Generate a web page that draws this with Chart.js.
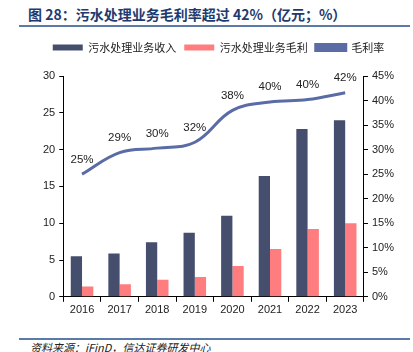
<!DOCTYPE html>
<html>
<head>
<meta charset="utf-8">
<script src="https://cdn.jsdelivr.net/npm/chart.js@4.4.0/dist/chart.umd.min.js"></script>
<style>
  html, body { margin: 0; padding: 0; background: #fff; }
  #wrap { position: relative; width: 413px; height: 352px; overflow: hidden; }
  #title { position: absolute; left: 28px; top: 4px; font: bold 14px "Noto Sans CJK SC", sans-serif; color: #1f3a6e; white-space: nowrap; }
  #topLine { position: absolute; left: 19px; top: 25px; width: 391px; height: 2px; background: #5b7aa8; }
  #botLine { position: absolute; left: 19px; top: 338px; width: 391px; height: 2px; background: #5b7aa8; }
  #source { position: absolute; left: 30px; top: 339px; font: italic 11px "Noto Sans CJK SC", sans-serif; color: #222; white-space: nowrap; }
  #chartBox { position: absolute; left: 0; top: 30px; width: 413px; height: 289px; }
</style>
</head>
<body>
<div id="wrap">
  <div id="title">图 28：污水处理业务毛利率超过 42%（亿元；%）</div>
  <div id="topLine"></div>
  <div id="chartBox"><canvas id="wasteChart"></canvas></div>
  <div id="botLine"></div>
  <div id="source">资料来源：iFinD，信达证券研发中心</div>
</div>
<script>
const years = ['2016', '2017', '2018', '2019', '2020', '2021', '2022', '2023'];
const revenue = [5.5, 5.9, 7.4, 8.7, 11.0, 16.4, 22.8, 24.0];
const grossProfit = [1.4, 1.7, 2.3, 2.7, 4.2, 6.5, 9.2, 10.0];
const grossMargin = [25.0, 29.4, 30.3, 31.5, 38.0, 39.7, 40.2, 41.6];
const marginLabels = ['25%', '29%', '30%', '32%', '38%', '40%', '40%', '42%'];

// labels above the margin line
const lineLabels = {
    id: 'lineLabels',
    afterDatasetsDraw(chart) {
        const ctx = chart.ctx;
        const meta = chart.getDatasetMeta(2);
        ctx.save();
        ctx.font = '11.5px "Liberation Sans", Arial, sans-serif';
        ctx.fillStyle = '#222';
        ctx.textAlign = 'center';
        ctx.textBaseline = 'bottom';
        meta.data.forEach(function(pt, i) {
            ctx.fillText(marginLabels[i], pt.x, pt.y - 9);
        });
        ctx.restore();
    }
};

// extra space between legend and plot
const legendGap = {
    id: 'legendGap',
    beforeInit(chart) {
        const fit = chart.legend.fit;
        chart.legend.fit = function() {
            fit.bind(chart.legend)();
            this.height += 13;
        };
    }
};

const wasteChart = new Chart(document.getElementById('wasteChart'), {
    type: 'bar',
    data: {
        labels: years,
        datasets: [{
            label: '污水处理业务收入',
            data: revenue,
            backgroundColor: '#464e6d',
            yAxisID: 'y',
            order: 2,
            categoryPercentage: 0.6,
            barPercentage: 1.0
        }, {
            label: '污水处理业务毛利',
            data: grossProfit,
            backgroundColor: '#ff7d7f',
            yAxisID: 'y',
            order: 2,
            categoryPercentage: 0.6,
            barPercentage: 1.0
        }, {
            type: 'line',
            label: '毛利率',
            data: grossMargin,
            borderColor: '#5a6ca6',
            backgroundColor: '#5a6ca6',
            borderWidth: 3,
            pointRadius: 0,
            tension: 0.4,
            yAxisID: 'y1',
            order: 1
        }]
    },
    options: {
        responsive: true,
        maintainAspectRatio: false,
        animation: false,
        layout: { padding: { left: 39, right: 15, top: 4, bottom: 0 } },
        plugins: {
            legend: {
                position: 'top',
                labels: {
                    boxWidth: 30,
                    boxHeight: 6,
                    padding: 8,
                    color: '#222',
                    font: { size: 11, family: '"Noto Sans CJK SC", sans-serif' },
                    sort: function(a, b) { return a.datasetIndex - b.datasetIndex; }
                }
            },
            tooltip: { enabled: false }
        },
        scales: {
            x: {
                grid: { display: true, offset: true, drawOnChartArea: false, drawTicks: true, tickLength: 5, color: '#000' },
                border: { color: '#000', width: 1 },
                ticks: { color: '#222', font: { size: 11, family: '"Liberation Sans", Arial' }, padding: 2 }
            },
            y: {
                position: 'left',
                min: 0,
                max: 30,
                ticks: { stepSize: 5, color: '#222', font: { size: 11, family: '"Liberation Sans", Arial' }, padding: 4 },
                grid: { display: true, drawOnChartArea: false, drawTicks: true, tickLength: 4, color: '#000' },
                border: { color: '#000', width: 1 }
            },
            y1: {
                position: 'right',
                min: 0,
                max: 45,
                ticks: {
                    stepSize: 5, color: '#222', padding: 4,
                    font: { size: 11, family: '"Liberation Sans", Arial' },
                    callback: function(v) { return v + '%'; }
                },
                grid: { display: true, drawOnChartArea: false, drawTicks: true, tickLength: 4, color: '#000' },
                border: { color: '#000', width: 1 }
            }
        }
    },
    plugins: [lineLabels, legendGap]
});
</script>
</body>
</html>
